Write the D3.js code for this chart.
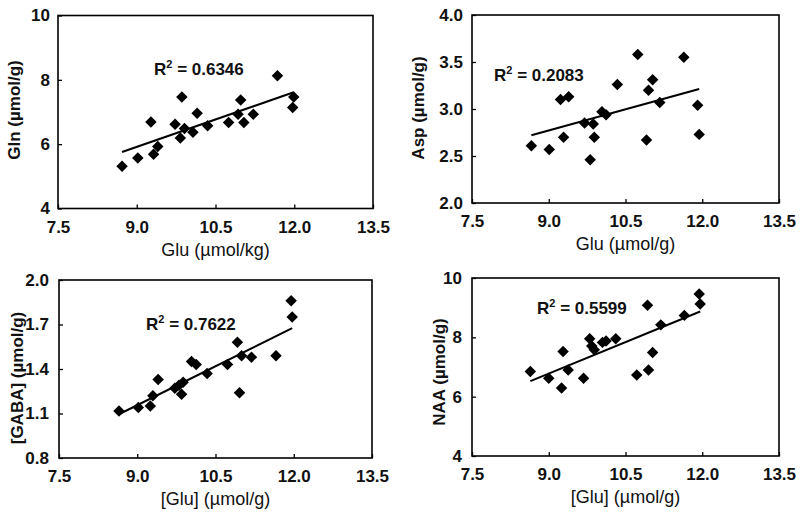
<!DOCTYPE html>
<html>
<head>
<meta charset="utf-8">
<script src="https://cdn.jsdelivr.net/npm/d3@7"></script>
<style>
  body { margin: 0; background: #fff; }
  svg { display: block; font-family: "Liberation Sans", Arial, sans-serif; }
</style>
</head>
<body>
<svg width="800" height="521"></svg>
<script>
// tick values
const gluTicks = [7.5, 9.0, 10.5, 12.0, 13.5];
const glnTicks = [4, 6, 8, 10];
const aspTicks = [2.0, 2.5, 3.0, 3.5, 4.0];
const gabaTicks = [0.8, 1.1, 1.4, 1.7, 2.0];
const naaTicks = [4, 6, 8, 10];

// Gln vs Glu
const gluGln = [8.72, 9.02, 9.27, 9.32, 9.40, 9.73, 9.86, 9.83, 9.91, 10.07, 10.15, 10.35, 10.75, 10.93, 10.98, 11.04, 11.22, 11.68, 11.99, 11.97];
const glnVals = [5.31, 5.57, 6.69, 5.69, 5.93, 6.62, 7.47, 6.19, 6.49, 6.37, 6.96, 6.57, 6.67, 6.93, 7.37, 6.67, 6.93, 8.13, 7.47, 7.14];

// Asp vs Glu
const gluAsp = [8.66, 9.01, 9.23, 9.39, 9.29, 9.70, 9.87, 9.81, 9.89, 10.04, 10.12, 10.34, 10.74, 10.95, 11.03, 10.91, 11.17, 11.64, 11.91, 11.94];
const aspVals = [2.61, 2.57, 3.10, 3.13, 2.70, 2.85, 2.84, 2.46, 2.70, 2.97, 2.94, 3.26, 3.58, 3.20, 3.31, 2.67, 3.07, 3.55, 3.04, 2.73];

// GABA vs Glu
const gluGaba = [8.65, 9.02, 9.25, 9.30, 9.40, 9.72, 9.80, 9.85, 9.88, 10.04, 10.13, 10.34, 10.73, 10.92, 11.00, 10.96, 11.19, 11.66, 11.95, 11.97];
const gabaVals = [1.117, 1.14, 1.15, 1.22, 1.33, 1.27, 1.29, 1.23, 1.31, 1.45, 1.43, 1.37, 1.43, 1.58, 1.49, 1.24, 1.48, 1.49, 1.86, 1.75];

// NAA vs Glu
const gluNaa = [8.64, 9.00, 9.25, 9.28, 9.38, 9.68, 9.80, 9.84, 9.89, 10.05, 10.12, 10.31, 10.72, 10.93, 10.95, 11.03, 11.19, 11.65, 11.94, 11.96];
const naaVals = [6.85, 6.62, 6.29, 7.52, 6.90, 6.62, 7.95, 7.71, 7.58, 7.83, 7.88, 7.95, 6.73, 9.08, 6.90, 7.49, 8.42, 8.74, 9.46, 9.12];

const r2Labels = ["0.6346", "0.2083", "0.7622", "0.5599"];

const panels = [
  { xs: gluGln, ys: glnVals, yTicks: glnTicks, yFmt: "d", r2: r2Labels[0],
    box: [58, 373, 15.5, 208.5], xTitle: "Glu (\u00b5mol/kg)", yTitle: "Gln (\u00b5mol/g)",
    yTitlePos: [14, 110], r2Pos: [154, 75], yPad: 8 },
  { xs: gluAsp, ys: aspVals, yTicks: aspTicks, yFmt: ".1f", r2: r2Labels[1],
    box: [472, 779, 15, 203], xTitle: "Glu (\u00b5mol/g)", yTitle: "Asp (\u00b5mol/g)",
    yTitlePos: [418, 108], r2Pos: [494, 81], yPad: 9 },
  { xs: gluGaba, ys: gabaVals, yTicks: gabaTicks, yFmt: ".1f", r2: r2Labels[2],
    box: [59, 372, 280, 458], xTitle: "[Glu] (\u00b5mol/g)", yTitle: "[GABA] (\u00b5mol/g)",
    yTitlePos: [17, 378], r2Pos: [146, 330], yPad: 10 },
  { xs: gluNaa, ys: naaVals, yTicks: naaTicks, yFmt: "d", r2: r2Labels[3],
    box: [472, 779, 278, 456], xTitle: "[Glu] (\u00b5mol/g)", yTitle: "NAA (\u00b5mol/g)",
    yTitlePos: [439, 372], r2Pos: [537, 314], yPad: 10 }
];

const svg = d3.select("svg");
const diamond = d3.symbol().type(d3.symbolSquare).size(66);

function fit(xs, ys) {
  const mx = d3.mean(xs), my = d3.mean(ys);
  let sxy = 0, sxx = 0;
  xs.forEach((x, i) => { sxy += (x - mx) * (ys[i] - my); sxx += (x - mx) * (x - mx); });
  const b = sxy / sxx;
  return x => my + b * (x - mx);
}

panels.forEach(p => {
  const [l, r, t, b] = p.box;
  const x = d3.scaleLinear().domain([7.5, 13.5]).range([l, r]);
  const y = d3.scaleLinear().domain(d3.extent(p.yTicks)).range([b, t]);
  const g = svg.append("g");

  // x axis, ticks pointing in
  g.append("g")
    .attr("transform", `translate(0,${b})`)
    .call(d3.axisBottom(x).tickValues(gluTicks).tickFormat(d3.format(".1f"))
      .tickSizeInner(-4).tickSizeOuter(0).tickPadding(12))
    .call(a => a.select(".domain").remove())
    .call(a => a.selectAll("line").attr("stroke", "#000").attr("stroke-width", 1.3))
    .call(a => a.selectAll("text").attr("font-size", 17).attr("font-weight", "bold")
      .attr("font-family", "Liberation Sans, Arial, sans-serif").attr("fill", "#111"));

  g.append("g")
    .attr("transform", `translate(${l},0)`)
    .call(d3.axisLeft(y).tickValues(p.yTicks).tickFormat(d3.format(p.yFmt))
      .tickSizeInner(-4).tickSizeOuter(0).tickPadding(p.yPad))
    .call(a => a.select(".domain").remove())
    .call(a => a.selectAll("line").attr("stroke", "#000").attr("stroke-width", 1.3))
    .call(a => a.selectAll("text").attr("font-size", 17).attr("font-weight", "bold")
      .attr("font-family", "Liberation Sans, Arial, sans-serif").attr("fill", "#111"));

  // frame
  g.append("rect")
    .attr("x", l).attr("y", t)
    .attr("width", r - l).attr("height", b - t)
    .attr("fill", "none").attr("stroke", "#000").attr("stroke-width", 1.6);

  // regression line
  const f = fit(p.xs, p.ys);
  const [x0, x1] = d3.extent(p.xs);
  g.append("line")
    .attr("x1", x(x0)).attr("y1", y(f(x0)))
    .attr("x2", x(x1)).attr("y2", y(f(x1)))
    .attr("stroke", "#000").attr("stroke-width", 2);

  // points
  g.append("g").selectAll("path")
    .data(p.xs.map((d, i) => [d, p.ys[i]]))
    .join("path")
    .attr("d", diamond)
    .attr("transform", d => `translate(${x(d[0])},${y(d[1])}) rotate(45)`)
    .attr("fill", "#000");

  // titles
  g.append("text")
    .attr("x", (l + r) / 2).attr("y", b + 47)
    .attr("text-anchor", "middle")
    .attr("font-size", 18).attr("fill", "#111")
    .text(p.xTitle);

  g.append("text")
    .attr("transform", `translate(${p.yTitlePos[0]},${p.yTitlePos[1]}) rotate(-90)`)
    .attr("text-anchor", "middle").attr("dominant-baseline", "central")
    .attr("font-size", 17).attr("font-weight", "bold").attr("fill", "#111")
    .text(p.yTitle);

  const r2 = g.append("text")
    .attr("x", p.r2Pos[0]).attr("y", p.r2Pos[1])
    .attr("font-size", 17).attr("font-weight", "bold").attr("fill", "#111");
  r2.append("tspan").text("R");
  r2.append("tspan").attr("font-size", 11).attr("dy", -7).text("2");
  r2.append("tspan").attr("dy", 7).text(" = " + p.r2);
});
</script>
</body>
</html>
